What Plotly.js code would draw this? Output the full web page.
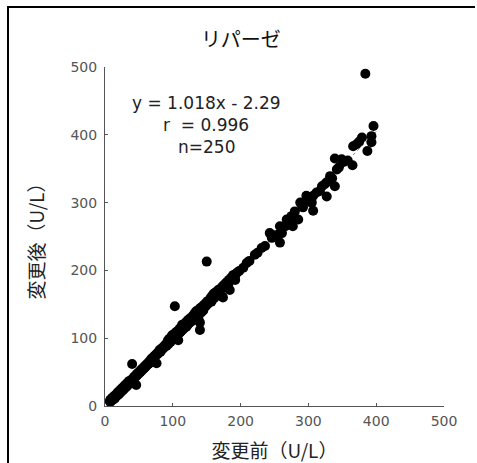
<!DOCTYPE html>
<html>
<head>
<meta charset="utf-8">
<script src="https://cdn.plot.ly/plotly-3.0.1.min.js"></script>
<style>
html,body{margin:0;padding:0;background:#fff;overflow:hidden;width:477px;height:463px;}
#wrap{position:relative;width:477px;height:463px;overflow:hidden;}
#chart{width:477px;height:463px;}
#frame{position:absolute;left:7px;top:6px;width:466px;height:520px;border-left:2.5px solid #000;border-top:2.5px solid #000;pointer-events:none;}
</style>
</head>
<body>
<div id="wrap"><div id="chart"></div><div id="frame"></div></div>
<script>
// 変更前 (before) values, U/L
const before = [
  7,8,8,9,9,10,10,11,11,12,12,13,13,14,14,15,15,16,16,17,17,18,18,19,19,20,20,21,21,22,22,23,23,24,24,25,25,26,26,27,27,28,28,29,29,30,30,31,31,32,32,33,33,34,34,35,35,36,36,37,38,38,39,40,40,41,41,42,43,44,45,46,46,47,48,49,50,51,52,53,54,55,56,57,58,59,60,
  61,62,63,64,65,66,67,68,69,70,71,72,73,74,75,76,77,78,79,80,81,82,83,84,86,87,88,89,90,91,92,93,94,95,95,96,97,98,98,99,100,100,101,102,103,103,104,105,105,106,107,108,108,109,110,110,111,112,112,113,114,114,115,116,117,117,118,119,120,120,121,122,123,123,124,125,125,126,127,128,128,129,130,130,131,132,133,133,134,135,135,136,137,138,138,139,140,140,140,141,142,143,144,145,146,147,148,149,150,150,151,152,153,155,156,157,158,160,161,162,164,165,167,168,170,172,173,174,175,177,178,180,182,183,184,186,188,189,190,192,193,195,
  192,198,204,209,213,221,225,231,236,243,246,250,256,258,258,261,266,268,272,275,277,280,285,288,292,297,300,305,307,307,312,317,320,324,327,327,332,335,339,339,342,345,349,352,358,365,366,371,375,379,384,387,393,393,396
];
// 変更後 (after) values, U/L
const after = [
  7,9,6,8,10,9,11,9,12,11,13,12,10,13,15,14,12,16,14,15,17,17,19,18,16,19,21,20,18,21,23,22,20,23,25,24,22,25,27,26,24,27,29,28,26,29,31,30,28,31,33,32,30,33,35,34,32,35,37,36,37,35,38,62,39,40,38,41,43,42,45,31,44,47,46,49,48,51,50,53,52,55,54,57,56,59,58,
  61,60,63,62,65,66,64,69,70,68,71,73,71,74,76,63,76,79,78,81,83,80,84,85,85,88,87,90,91,89,94,97,92,96,99,98,95,101,103,98,102,105,100,104,147,107,102,106,109,104,108,97,111,107,111,114,109,113,116,111,117,120,113,118,121,115,119,123,117,122,125,120,124,127,122,126,129,124,128,131,125,130,128,133,135,130,134,138,131,136,140,133,139,142,128,136,112,141,123,145,138,143,147,141,149,146,151,148,213,153,150,155,152,157,160,154,162,165,159,167,166,169,171,164,173,162,176,160,178,175,181,183,180,186,171,189,187,193,191,186,195,197,
  192,199,204,211,214,223,226,233,236,255,248,252,253,241,265,255,265,275,272,280,265,287,275,300,293,310,302,300,310,288,315,317,324,327,330,309,339,336,324,365,349,352,364,360,362,355,383,386,390,396,490,376,389,398,413
];
// regression shown on the chart
const slope = 1.018;
const intercept = -2.29;
const lineX = [0, 400];
const lineY = lineX.map(v => slope * v + intercept);
const statLines = ["y = 1.018x - 2.29", "r  = 0.996", "n=250"];
const tickVals = [0, 100, 200, 300, 400, 500];

const jp = '"Noto Sans CJK JP", "Noto Sans", sans-serif';
const num = '"DejaVu Sans", "Liberation Sans", sans-serif';

const traces = [
  {x: lineX, y: lineY, mode: 'lines', line: {color: '#888', width: 1, dash: 'dot'}, hoverinfo: 'skip'},
  {x: before, y: after, mode: 'markers', marker: {color: '#000', size: 10, line: {width: 0}}}
];

const axisCommon = {
  range: [0, 500], tickvals: tickVals, ticks: 'inside', ticklen: 3, tickcolor: '#555', tickwidth: 1,
  showline: true, linecolor: '#555', linewidth: 1, showgrid: false, zeroline: false,
  tickfont: {family: num, size: 14, color: '#555'}, fixedrange: true
};

const layout = {
  width: 477, height: 463,
  margin: {l: 105, r: 33, t: 67, b: 57},
  paper_bgcolor: '#fff', plot_bgcolor: '#fff',
  showlegend: false,
  title: {text: 'リパーゼ', font: {family: jp, size: 20, color: '#111'}, x: 0.505, xanchor: 'center', y: 0.913, yanchor: 'middle'},
  xaxis: Object.assign({}, axisCommon, {ticklabelstandoff: 2, title: {text: '変更前（U/L）', font: {family: jp, size: 19, color: '#222'}, standoff: 16}}),
  yaxis: Object.assign({}, axisCommon, {ticklabelstandoff: 4, title: {text: '変更後（U/L）', font: {family: jp, size: 19, color: '#222'}, standoff: 20}}),
  annotations: statLines.map((t, i) => ({
    text: t, xref: 'paper', yref: 'paper', x: 0.298, y: 0.893 - i * 0.065,
    xanchor: 'center', yanchor: 'middle', showarrow: false,
    font: {family: num, size: 17, color: '#222'}
  }))
};

Plotly.newPlot('chart', traces, layout, {displayModeBar: false, staticPlot: true});
</script>
</body>
</html>
